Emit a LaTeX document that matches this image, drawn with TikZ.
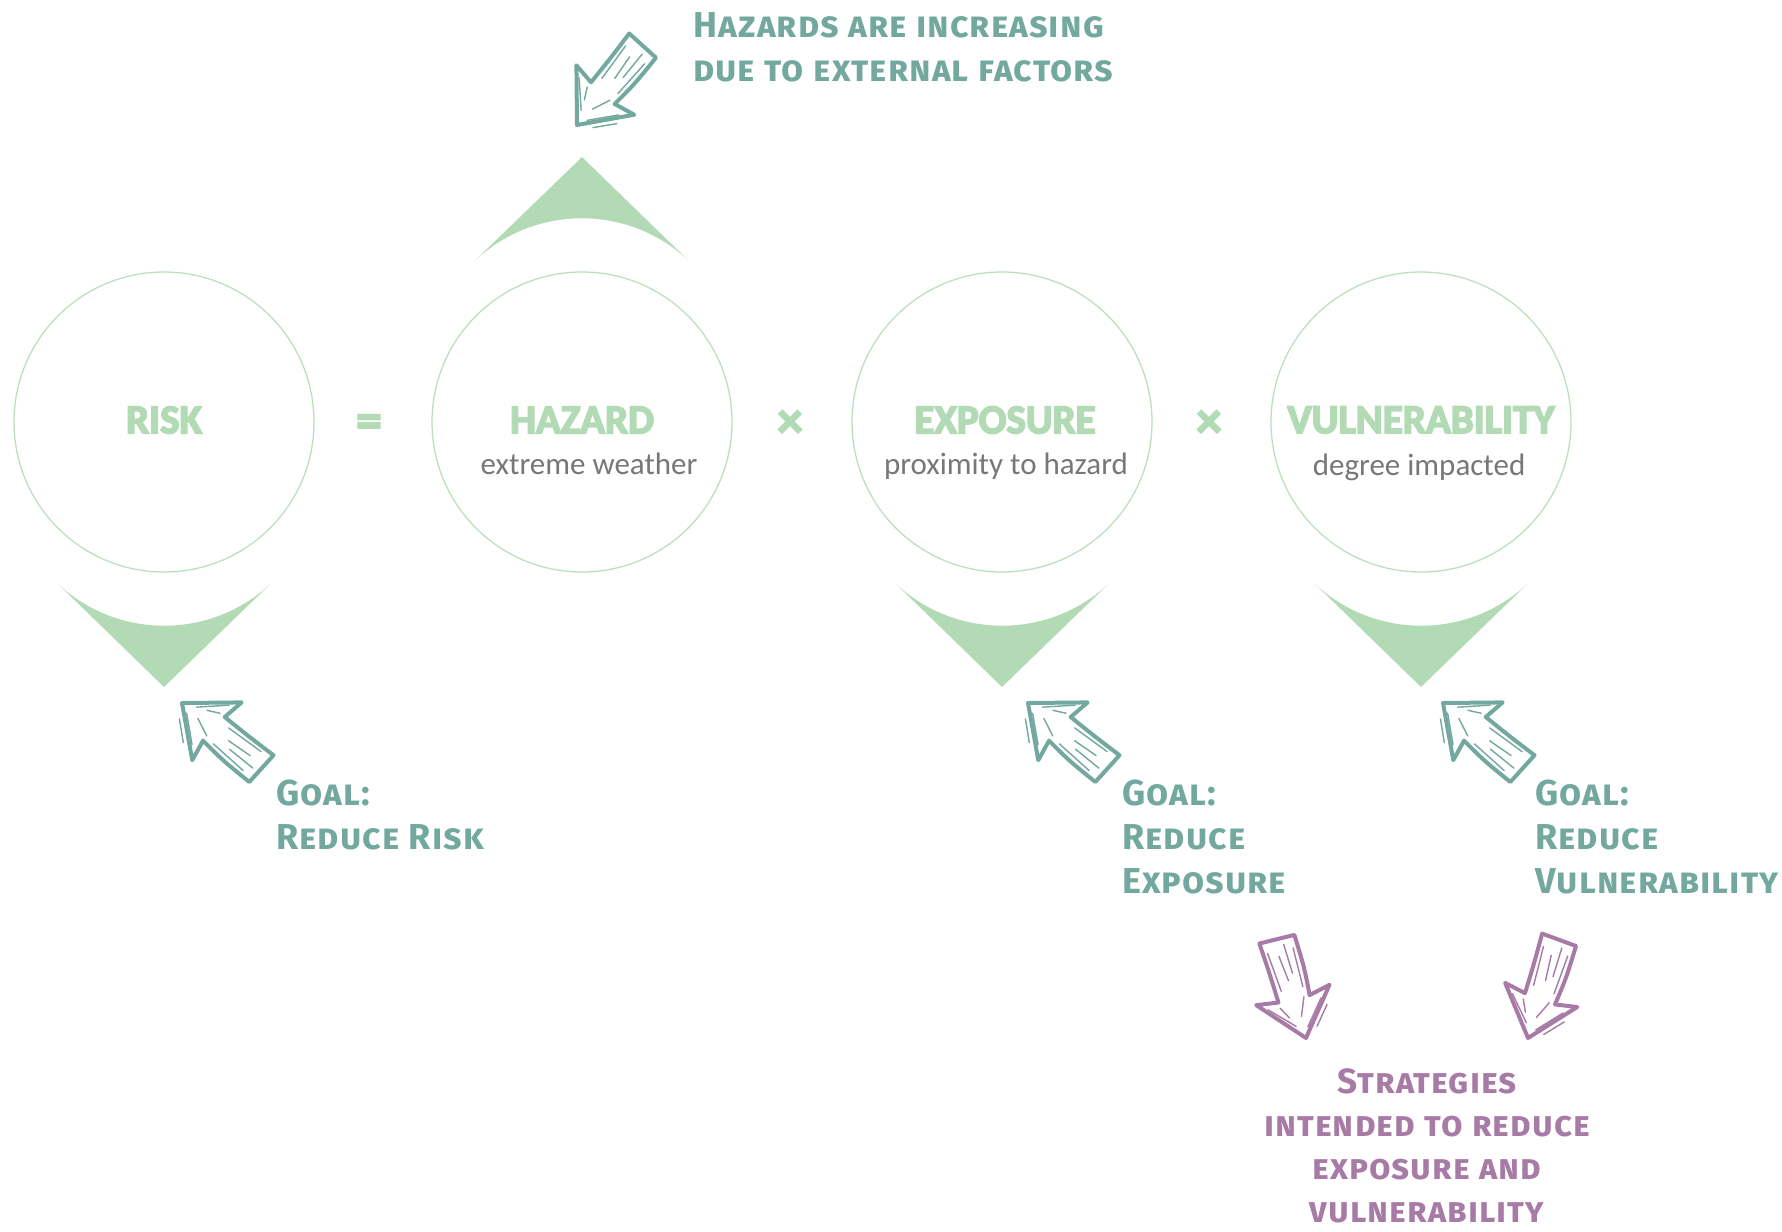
\documentclass[tikz,border=0pt]{standalone}
\usepackage{fontspec}
\setmainfont{Carlito}
\newfontfamily\factorfont{Carlito}[BoldFeatures={FakeBold=4}]
\newfontfamily\handfont[Letters=SmallCaps, LetterSpace=3]{Fira Sans}
\usetikzlibrary{positioning}

\definecolor{ringgreen}{HTML}{BCE0BF}
\definecolor{wedgegreen}{HTML}{B2DBB5}
\definecolor{goalteal}{HTML}{72A89D}
\definecolor{stratpurple}{HTML}{A77BA6}
\definecolor{subgray}{HTML}{777777}

\tikzset{
  ring/.style={circle, draw=ringgreen, line width=1.3pt, minimum size=300pt, inner sep=0pt},
  factor/.style={font=\factorfont\bfseries\fontsize{41}{48}\selectfont, text=wedgegreen, inner sep=0pt},
  meaning/.style={font=\fontsize{31}{36}\selectfont, text=subgray, inner sep=0pt},
  operator/.style={font=\factorfont\bfseries\fontsize{50}{50}\selectfont, text=wedgegreen, inner sep=0pt},
  note/.style={font=\handfont\bfseries\fontsize{36}{44}\selectfont, align=left, inner sep=0pt},
  wedge/.pic={
    \fill[wedgegreen] (0,265) -- (-106,162) arc[start angle=132.9, end angle=47.1, radius=156] -- cycle;
  },
  scribble/.pic={
    \path[pic actions, line width=4pt, line join=round, line cap=round]
      (0,0) -- (-44,-38) -- (-40,-16) .. controls (-68,-19) .. (-102,-19)
      -- (-104,17) .. controls (-72,16) .. (-42,16) -- (-46,38) -- cycle;
    \draw[pic actions, line width=1.4pt, line cap=round]
      (-10,-5) -- (-34,-26) (-14,6) -- (-38,28) (-22,-2) -- (-40,-10)
      (-24,10) -- (-36,16) (-8,-14) -- (-26,-30)
      (-50,-12) -- (-90,-14) (-52,10) -- (-92,12) (-60,0) -- (-86,2)
      (-66,-6) -- (-96,-6);
  }
}

\begin{document}
\begin{tikzpicture}[x=1pt, y=-1pt]
\useasboundingbox (0,0) rectangle (1782,1231);

% the four factors
\foreach \n/\x in {risk/164, haz/582, expo/1002, vuln/1421}
  \node[ring] (\n) at (\x,422) {};

\node[factor] (riskt) at (164,420) {RISK};
\node[factor] (hazt) at (582,420) {HAZARD};
\node[factor] (expot) at (1005,420) {EXPOSURE};
\node[factor] (vulnt) at (1421,420) {VULNERABILITY};
\node[meaning] (hazm) at (589,464) {extreme weather};
\node[meaning] (expom) at (1006,466) {proximity to hazard};
\node[meaning] (vulnm) at (1419,467) {degree impacted};

\node[operator] (eq) at (369,426) {=};
\node[operator] (times1) at (790,424) {×};
\node[operator] (times2) at (1209,424) {×};

% wedges
\pic at (risk) {wedge};
\pic at (expo) {wedge};
\pic at (vuln) {wedge};
\pic[rotate=180] at (haz) {wedge};

% hand drawn notes
\pic[rotate=231, draw=goalteal, fill=white] at (577,125) {scribble};
\node[note, text=goalteal, anchor=north west] (hazardnote) at (693,12)
  {Hazards are increasing\\due to external factors};

\pic[rotate=141, draw=goalteal, fill=white] at (182,703) {scribble};
\pic[rotate=141, draw=goalteal, fill=white] at (1028,703) {scribble};
\pic[rotate=141, draw=goalteal, fill=white] at (1443,703) {scribble};
\node[note, text=goalteal, anchor=north west] (riskgoal) at (276,780)
  {Goal:\\Reduce Risk};
\node[note, text=goalteal, anchor=north west] (expogoal) at (1122,780)
  {Goal:\\Reduce\\Exposure};
\node[note, text=goalteal, anchor=north west] (vulngoal) at (1535,780)
  {Goal:\\Reduce\\Vulnerability};

\pic[rotate=287, draw=stratpurple, fill=white] at (1306,1038) {scribble};
\pic[rotate=253, draw=stratpurple, fill=white] at (1528,1038) {scribble};
\node[note, text=stratpurple, align=center, anchor=north, font=\handfont\bfseries\fontsize{35}{43}\selectfont]
  (stratnote) at (1427,1068)
  {Strategies\\intended to reduce\\exposure and\\vulnerability};
\end{tikzpicture}
\end{document}
